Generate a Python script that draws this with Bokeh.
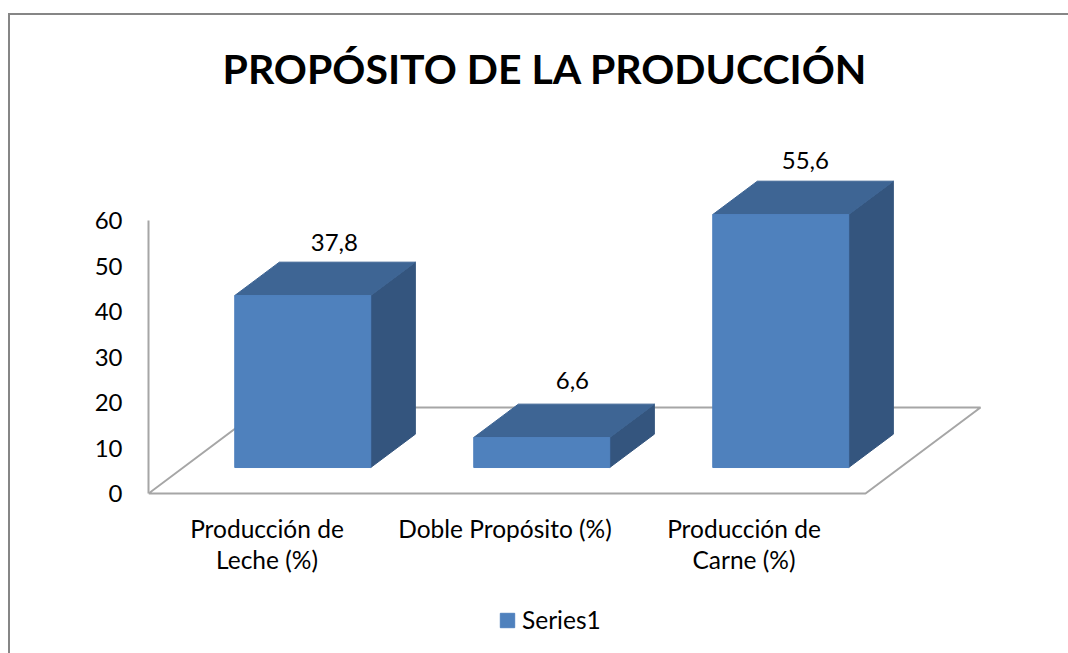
from bokeh.plotting import figure
from bokeh.embed import file_html
from bokeh.resources import INLINE
from bokeh.core.properties import value
from bokeh.models import Legend, LegendItem, FixedTicker, Title

categories = ["Producción de\nLeche (%)", "Doble Propósito (%)", "Producción de\nCarne (%)"]
values = [37.8, 6.6, 55.6]
value_labels = ["37,8", "6,6", "55,6"]
y_ticks = [0, 10, 20, 30, 40, 50, 60]
series_name = "Series1"
chart_title = "PROPÓSITO DE LA PRODUCCIÓN"

FONT = "Lato"
W, H = 1068, 653
LEFT, ZERO_Y, TOP_Y = 148, 493, 108   # frame left, pixel row of value 0, frame top
PX_PER_CAT = 239.0
PX_PER_VAL = 4.55
X_MAX = (W - LEFT) / PX_PER_CAT
Y_MAX = (ZERO_Y - TOP_Y) / PX_PER_VAL
Y_MIN = -(H - ZERO_Y) / PX_PER_VAL

# 3-D projection: depth z in 0..1 shifts the point right and up
DX = 115 / PX_PER_CAT
DY = 86 / PX_PER_VAL
Z0, Z1 = 0.302, 0.69
BAR_W = 0.569

def proj(cat, val, z):
    return cat + z * DX, val + z * DY

p = figure(width=W, height=H, x_range=(0, X_MAX), y_range=(Y_MIN, Y_MAX),
           frame_width=W - LEFT, frame_height=H - TOP_Y,
           output_backend="svg", toolbar_location=None,
           min_border_left=LEFT, min_border_right=0,
           min_border_top=TOP_Y, min_border_bottom=0,
           background_fill_color=None, border_fill_color=None)
p.outline_line_color = None
p.xgrid.visible = False
p.ygrid.visible = False
p.xaxis.visible = False

# chart-area border (left and top edges only), behind the transparent canvas
BORDER = "#868686"
p.styles = {"background": f"linear-gradient({BORDER},{BORDER}) 8px 13px / 100% 2px no-repeat, "
                          f"linear-gradient({BORDER},{BORDER}) 8px 13px / 2px 100% no-repeat, white"}

# Title
p.title = Title(text=chart_title, align="left", offset=74, text_font=FONT,
                text_font_size="41px", text_font_style="bold", text_color="#000000",
                standoff=31)

# value axis
AX = "#A6A6A6"
ya = p.yaxis[0]
ya.ticker = FixedTicker(ticks=y_ticks)
ya.bounds = (0, 60)
ya.axis_line_color = AX
ya.axis_line_width = 2
ya.major_tick_line_color = None
ya.minor_tick_line_color = None
ya.major_label_text_font = FONT
ya.major_label_text_font_size = "24px"
ya.major_label_text_color = "#000000"
ya.major_label_standoff = 20

# floor edges
fx0, fy0 = proj(0, 0, 0)
fx1, fy1 = proj(0, 0, 1)
fx2, fy2 = proj(3, 0, 1)
fx3, fy3 = proj(3, 0, 0)
p.line([fx0, fx1, fx2, fx3, fx0], [fy0, fy1, fy2, fy3, fy0], line_color=AX, line_width=2)

# category labels
p.text(x=[i + 0.5 for i in range(3)], y=[0, 0, 0], text=categories, text_font=value(FONT),
       text_font_size="24.5px", text_color="#000000", text_align="center", text_baseline="top",
       text_line_height=1.08, x_offset=[-1, -2, -2], y_offset=20)

# bars
x_lo = [i + 0.5 - BAR_W / 2 for i in range(3)]
x_hi = [i + 0.5 + BAR_W / 2 for i in range(3)]
front_l, front_r, front_b, front_t = [], [], [], []
side_x, side_y, top_x, top_y = [], [], [], []
for lo, hi, v in zip(x_lo, x_hi, values):
    l, b = proj(lo, 0, Z0)
    r, t = proj(hi, v, Z0)
    front_l.append(l); front_r.append(r); front_b.append(b); front_t.append(t)
    a = proj(hi, 0, Z0); c = proj(hi, v, Z0); d = proj(hi, v, Z1); e = proj(hi, 0, Z1)
    side_x.append([a[0], c[0], d[0], e[0]]); side_y.append([a[1], c[1], d[1], e[1]])
    f = proj(lo, v, Z0); g = proj(lo, v, Z1)
    top_x.append([f[0], c[0], d[0], g[0]]); top_y.append([f[1], c[1], d[1], g[1]])

p.patches(side_x, side_y, fill_color="#34557E", line_color="#34557E", line_width=1)
p.patches(top_x, top_y, fill_color="#3E6594", line_color="#3E6594", line_width=1)
front = p.quad(left=front_l, right=front_r, bottom=front_b, top=front_t,
               fill_color="#4F81BD", line_color="#4F81BD", line_width=1)

# value labels
lx = [proj(i + 0.5, 0, Z1)[0] for i in range(3)]
ly = [proj(i + 0.5, v, Z1)[1] for i, v in enumerate(values)]
p.text(x=lx, y=ly, text=value_labels, text_font=value(FONT), text_font_size="24px",
       text_color="#000000", text_align="center", text_baseline="middle",
       x_offset=[-13, -14, -20], y_offset=[-20, -24, -21])

# legend
legend = Legend(items=[LegendItem(label=series_name, renderers=[front])],
                location=(350, 19), orientation="horizontal",
                glyph_width=18, glyph_height=18, label_text_font=FONT,
                label_text_font_size="24.5px", label_text_color="#000000",
                border_line_color=None, background_fill_alpha=0,
                padding=0, margin=0, spacing=0, label_standoff=6)
p.add_layout(legend)

open("out.html", "w").write(file_html(p, INLINE))
